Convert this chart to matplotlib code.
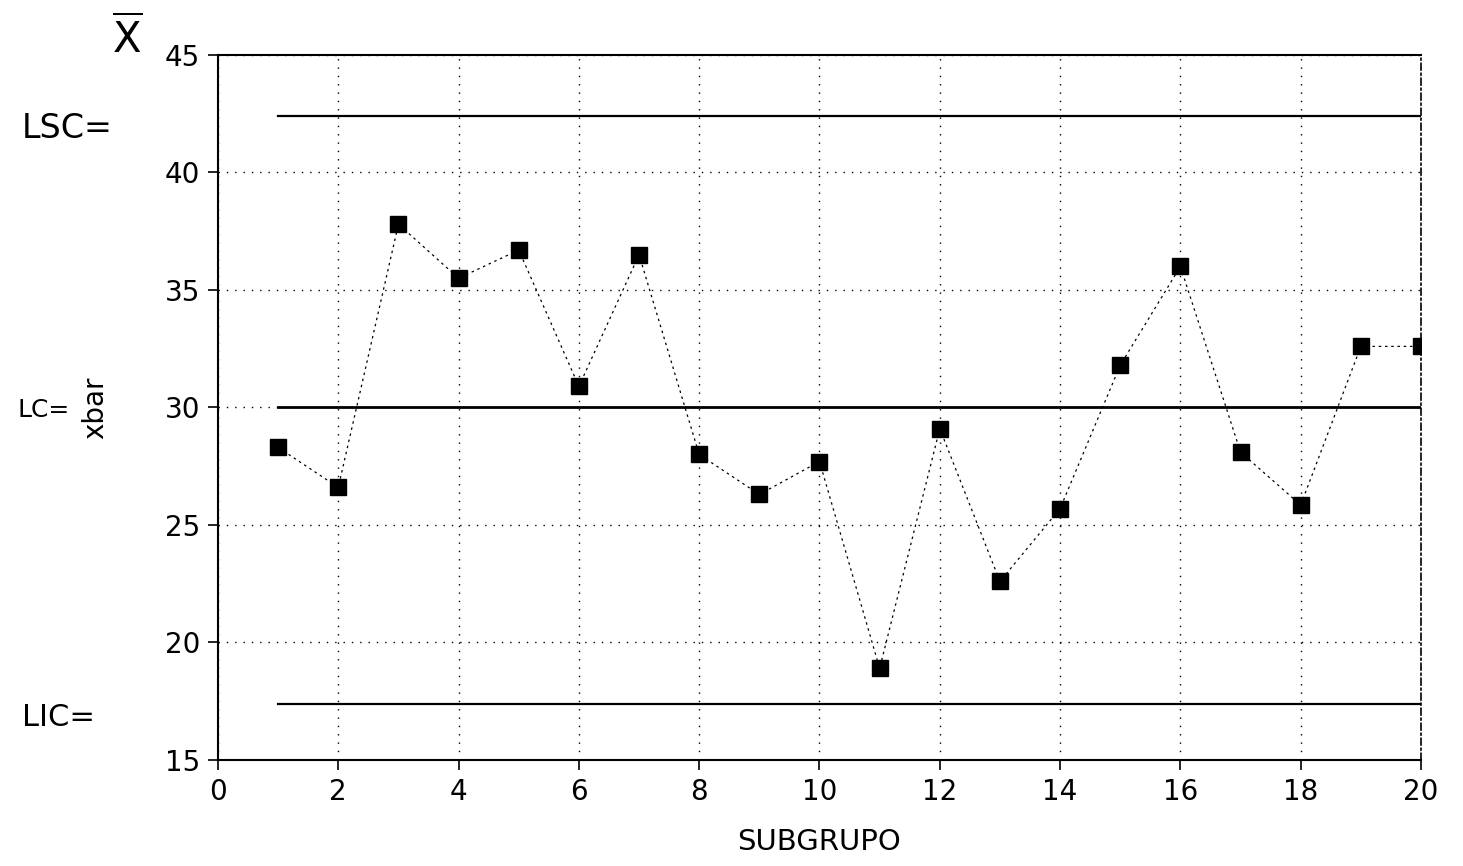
import numpy as np
import matplotlib
matplotlib.use("Agg")
import matplotlib.pyplot as plt

# subgroup means
subgrupo = np.arange(1, 21)
xbar = [28.3, 26.6, 37.8, 35.5, 36.7, 30.9, 36.5, 28.0, 26.3, 27.7,
        18.9, 29.1, 22.6, 25.7, 31.8, 36.0, 28.1, 25.85, 32.6, 32.6]

# control limits
lsc = 42.4
lc = 30.0
lic = 17.4

xticks = [0, 2, 4, 6, 8, 10, 12, 14, 16, 18, 20]
yticks = [15, 20, 25, 30, 35, 40, 45]

fig = plt.figure(figsize=(14.63, 8.66), dpi=100)
ax = fig.add_axes([0.149, 0.1224, 0.8223, 0.8141])

# control lines from first to last subgroup
ax.plot([subgrupo[0], subgrupo[-1]], [lsc, lsc], color='black', lw=1.6)
ax.plot([subgrupo[0], subgrupo[-1]], [lc, lc], color='black', lw=2.0)
ax.plot([subgrupo[0], subgrupo[-1]], [lic, lic], color='black', lw=1.6)

# data line with square markers
ax.plot(subgrupo, xbar, color='black', lw=0.9, ls=(0, (2, 3)),
        marker='s', markersize=12, markerfacecolor='black',
        markeredgecolor='black', zorder=5)

ax.set_xlim(0, 20)
ax.set_ylim(15, 45)
ax.set_xticks(xticks)
ax.set_yticks(yticks)
ax.tick_params(axis='both', labelsize=20, direction='out', length=7, width=1.2, pad=6)
ax.grid(True, color='black', ls=(0, (1, 5)), lw=1.0)

for s in ['left', 'bottom', 'top']:
    ax.spines[s].set_linewidth(1.5)
ax.spines['right'].set_linestyle((0, (4, 2, 1, 2)))
ax.spines['right'].set_linewidth(1.2)

ax.set_xlabel('SUBGRUPO', fontsize=21, labelpad=16)
ax.set_ylabel('xbar', fontsize=20, labelpad=40)

# handwritten notes on the margin
fig.text(0.087, 0.955, r'$\overline{\mathrm{X}}$', fontsize=30, ha='center', va='center')
fig.text(0.015, 0.852, 'LSC=', fontsize=24, ha='left', va='center')
fig.text(0.012, 0.527, 'LC=', fontsize=18, ha='left', va='center')
fig.text(0.015, 0.171, 'LIC=', fontsize=22, ha='left', va='center')

fig.savefig('out.png', dpi=100)
